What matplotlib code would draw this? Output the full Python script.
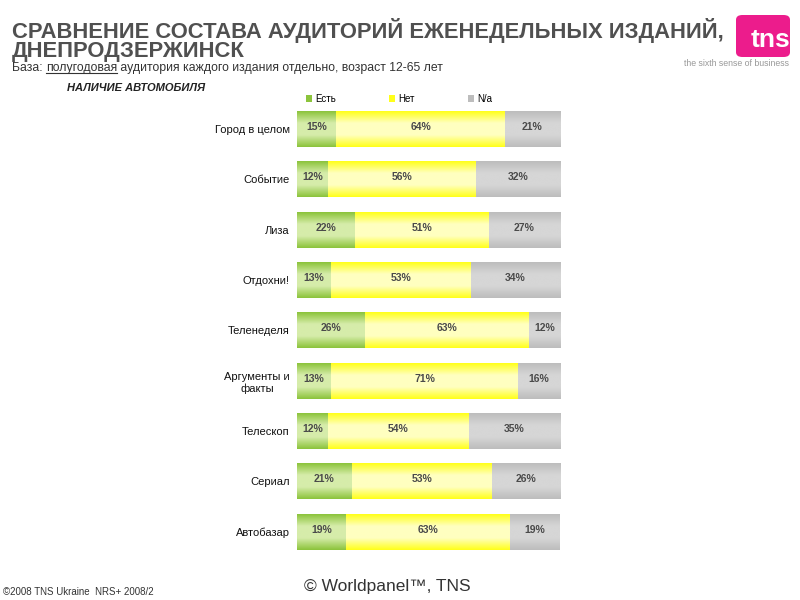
import matplotlib
matplotlib.use("Agg")
import matplotlib.pyplot as plt
import numpy as np
from matplotlib.colors import LinearSegmentedColormap
from matplotlib.patches import FancyBboxPatch

plt.rcParams['font.family'] = ['Liberation Sans', 'DejaVu Sans']

categories = ["Город в целом", "Событие", "Лиза", "Отдохни!", "Теленеделя",
              "Аргументы и\nфакты", "Телескоп", "Сериал", "Автобазар"]
est = [15, 12, 22, 13, 26, 13, 12, 21, 19]
net = [64, 56, 51, 53, 63, 71, 54, 53, 63]
na = [21, 32, 27, 34, 12, 16, 35, 26, 19]
series_names = ["Есть", "Нет", "N/a"]

edge_cols = ["#8cc43c", "#ffff1a", "#bdbdbd"]
mid_cols = ["#d6ecaa", "#ffffc0", "#d6d6d6"]

fig = plt.figure(figsize=(8, 6), dpi=100)
ax = fig.add_axes([0.371, 0.0717, 0.329, 0.755])

data = np.array([est, net, na], dtype=float)
totals = data.sum(axis=0)
shares = data / totals * 100
y = np.arange(len(categories))
left = np.zeros(len(categories))
for i, name in enumerate(series_names):
    bars = ax.barh(y, shares[i], left=left, height=0.71, color=edge_cols[i],
                   label=name, edgecolor='none')
    cmap = LinearSegmentedColormap.from_list(
        "g%d" % i, [edge_cols[i], mid_cols[i], mid_cols[i], edge_cols[i]])
    grad = np.linspace(0, 1, 64).reshape(-1, 1)
    for b, v in zip(bars, data[i]):
        x0, yb = b.get_x(), b.get_y()
        w, h = b.get_width(), b.get_height()
        ax.imshow(grad, cmap=cmap, aspect='auto', extent=(x0, x0 + w, yb, yb + h),
                  zorder=2, interpolation='bilinear')
        ax.text(x0 + w / 2, yb + h / 2 - 0.04, "%d%%" % v, ha='center', va='center',
                fontsize=7.5, fontweight='bold', color='#4a4a4a', zorder=3)
    left = left + shares[i]

ax.set_xlim(0, 100)
ax.set_ylim(len(categories) - 0.5, -0.5)
ax.set_yticks(y)
ax.set_yticklabels(categories, fontsize=8, multialignment='center', color='#111111')
ax.tick_params(axis='y', length=0, pad=5)
ax.set_xticks([])
for s in ax.spines.values():
    s.set_visible(False)

leg = ax.legend(loc='lower left', bbox_to_anchor=(0.035, 1.0), ncol=3, frameon=False,
                fontsize=7, handlelength=0.6, handleheight=0.6, columnspacing=5.4,
                handletextpad=0.4, borderaxespad=0, borderpad=0)

# Titles
fig.text(12 / 800, 1 - 38 / 600, "СРАВНЕНИЕ СОСТАВА АУДИТОРИЙ ЕЖЕНЕДЕЛЬНЫХ ИЗДАНИЙ,",
         fontsize=15.8, fontweight='bold', color='#505050', va='baseline', ha='left')
fig.text(12 / 800, 1 - 57 / 600, "ДНЕПРОДЗЕРЖИНСК",
         fontsize=15.8, fontweight='bold', color='#505050', va='baseline', ha='left')
sub_y = 1 - 68 / 600
t1 = fig.text(12 / 800, sub_y, "База: ", fontsize=8.8,
              color='#333333', va='center', ha='left')
fig.canvas.draw()
r = fig.canvas.get_renderer()
bb = t1.get_window_extent(r)
t2 = fig.text(bb.x1 / 800, sub_y, "полугодовая", fontsize=8.8,
              color='#333333', va='center', ha='left')
bb2 = t2.get_window_extent(r)
fig.add_artist(plt.Line2D([bb2.x0 / 800, bb2.x1 / 800], [bb2.y0 / 600 + 0.001] * 2,
                          color='#333333', lw=0.8))
fig.text(bb2.x1 / 800, sub_y, " аудитория каждого издания отдельно, возраст 12-65 лет",
         fontsize=8.8, color='#333333', va='center', ha='left')
fig.text(67 / 800, 1 - 88 / 600, "НАЛИЧИЕ АВТОМОБИЛЯ", fontsize=8, fontweight='bold',
         fontstyle='italic', color='#222222', va='center', ha='left')

# Logo
logo = FancyBboxPatch((736 / 800, 1 - 57 / 600), 54 / 800, 42 / 600,
                      boxstyle="round,pad=0,rounding_size=0.008",
                      transform=fig.transFigure, facecolor='#ec1c8c', edgecolor='none')
fig.add_artist(logo)
fig.text(790 / 800, 1 - 40 / 600, "tns", fontsize=19, fontweight='bold', color='white',
         ha='right', va='center')
fig.text(789 / 800, 1 - 63 / 600, "the sixth sense of business", fontsize=6.3,
         color='#999999', ha='right', va='center')

# Footer
fig.text(3 / 800, 1 - 592 / 600, "©2008 TNS Ukraine  NRS+ 2008/2", fontsize=7,
         color='#333333', ha='left', va='center')
fig.text(387 / 800, 1 - 586 / 600, "© Worldpanel™, TNS", fontsize=12.5,
         color='#333333', ha='center', va='center')

fig.savefig("out.png", dpi=100)
